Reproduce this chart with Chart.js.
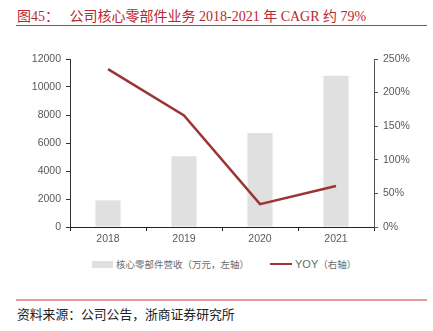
<!DOCTYPE html>
<html>
<head>
<meta charset="utf-8">
<script src="https://cdn.jsdelivr.net/npm/chart.js@4/dist/chart.umd.min.js"></script>
<style>
  body { margin: 0; background: #fff; width: 433px; height: 331px; position: relative; overflow: hidden; }
  #title { position: absolute; left: 17px; top: 5px; font: 14px "Liberation Serif", "Noto Sans CJK SC", serif; color: #b8282e; white-space: nowrap; }
  #title-rule { position: absolute; left: 16px; top: 25px; width: 411px; height: 1px; background: #c8363c; }
  #chart-box { position: absolute; left: 0; top: 35px; width: 433px; height: 215px; }
  #legend { position: absolute; top: 256px; left: 0; width: 433px; height: 16px; font: 9.5px "Noto Sans CJK SC", sans-serif; color: #6b6b6b; }
  .lg { position: absolute; top: 0; white-space: nowrap; line-height: 16px; }
  .sw-box { position: absolute; left: 92px; top: 5px; width: 21px; height: 7px; background: #e0e0e0; }
  .sw-line { position: absolute; left: 270px; top: 7px; width: 22px; height: 2px; background: #9b3434; }
  #foot-rule { position: absolute; left: 16px; top: 299px; width: 411px; height: 2px; background: #e89a9a; }
  #source { position: absolute; left: 17px; top: 304px; font: 12.8px "Noto Sans CJK SC", serif; color: #222; white-space: nowrap; }
</style>
</head>
<body>
<div id="title">图45：&nbsp;&nbsp; 公司核心零部件业务 2018-2021 年 CAGR 约 79%</div>
<div id="title-rule"></div>
<div id="chart-box"><canvas id="myChart" width="433" height="215"></canvas></div>
<div id="legend">
  <div class="sw-box"></div>
  <div class="lg" style="left:116px">核心零部件营收（万元，左轴）</div>
  <div class="sw-line"></div>
  <div class="lg" style="left:295px"><span style="font-family:'Liberation Sans',sans-serif;font-size:11px">YOY</span>（右轴）</div>
</div>
<div id="foot-rule"></div>
<div id="source">资料来源：公司公告，浙商证券研究所</div>
<script>
const years = ["2018", "2019", "2020", "2021"];
const revenue = [1900, 5050, 6720, 10800];
const yoy = [235, 166, 34, 61];

const tickFont = { family: "Liberation Sans", size: 10.5 };
const tickColor = "#595959";

new Chart(document.getElementById("myChart").getContext("2d"), {
    type: "bar",
    data: {
        labels: years,
        datasets: [{
            label: "核心零部件营收（万元，左轴）",
            data: revenue,
            backgroundColor: "#e0e0e0",
            categoryPercentage: 1,
            barPercentage: 0.33,
            yAxisID: "y",
            order: 2
        }, {
            type: "line",
            label: "YOY（右轴）",
            data: yoy,
            borderColor: "#9b3434",
            borderWidth: 2.5,
            pointRadius: 0,
            tension: 0,
            yAxisID: "y1",
            order: 1
        }]
    },
    options: {
        responsive: false,
        animation: false,
        layout: { padding: { left: 0, right: 0, top: 24, bottom: 0 } },
        plugins: { legend: { display: false }, tooltip: { enabled: false } },
        scales: {
            x: {
                grid: { display: true, drawOnChartArea: false, offset: true, tickLength: 4, color: "#222" },
                border: { color: "#222", width: 1 },
                ticks: { font: tickFont, color: tickColor, padding: 2 },
                afterFit: (s) => { s.height = 23; }
            },
            y: {
                position: "left",
                min: 0, max: 12000,
                grid: { display: true, drawOnChartArea: false, tickLength: 4, color: "#333" },
                border: { color: "#333", width: 1 },
                ticks: { stepSize: 2000, font: tickFont, color: tickColor, padding: 5, callback: (v) => String(v) },
                afterFit: (s) => { s.width = 70; }
            },
            y1: {
                position: "right",
                min: 0, max: 250,
                grid: { display: true, drawOnChartArea: false, tickLength: 4, color: "#555" },
                border: { color: "#555", width: 1 },
                ticks: { stepSize: 50, font: tickFont, color: tickColor, padding: 5, callback: (v) => v + "%" },
                afterFit: (s) => { s.width = 59; }
            }
        }
    }
});
</script>
</body>
</html>
